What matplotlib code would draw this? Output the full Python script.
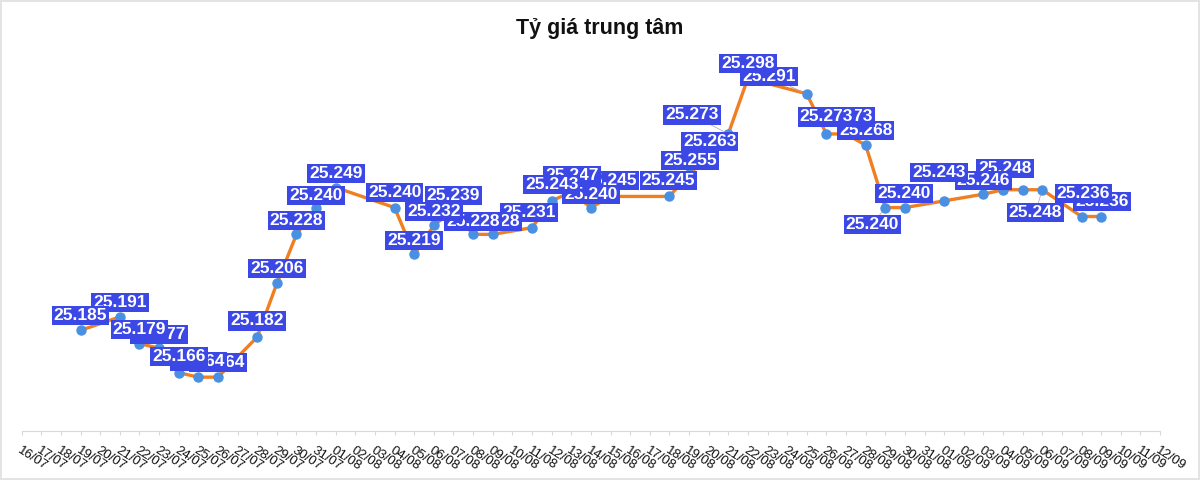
import matplotlib
matplotlib.use('Agg')
import matplotlib.pyplot as plt
import pandas as pd

plt.rcParams['font.family'] = ['Liberation Sans', 'DejaVu Sans']

# Axis categories: every day from 16/07 to 12/09
axis_days = list(pd.date_range('2025-07-16', '2025-09-12').strftime('%d/%m'))

# Central rate (thousand VND / USD)
dates = ['19/07', '21/07', '22/07', '23/07', '24/07', '25/07', '26/07', '28/07', '29/07',
         '30/07', '31/07', '01/08', '04/08', '05/08', '06/08', '07/08', '08/08', '09/08',
         '11/08', '12/08', '13/08', '14/08', '15/08', '18/08', '19/08', '20/08', '21/08',
         '22/08', '25/08', '26/08', '27/08', '28/08', '29/08', '30/08', '01/09', '03/09',
         '04/09', '05/09', '06/09', '08/09', '09/09']
rates = [25.185, 25.191, 25.179, 25.177, 25.166, 25.164, 25.164, 25.182, 25.206,
         25.228, 25.240, 25.249, 25.240, 25.219, 25.232, 25.239, 25.228, 25.228,
         25.231, 25.243, 25.247, 25.240, 25.245, 25.245, 25.255, 25.263, 25.273,
         25.298, 25.291, 25.273, 25.273, 25.268, 25.240, 25.240, 25.243, 25.246,
         25.248, 25.248, 25.248, 25.236, 25.236]

# label placement (pixels from the point), None = label hidden
label_offsets = [(0, 15), (0, 14), (0, 14), (0, 14), (0, 16), (0, 16), (0, 15), (0, 16), (0, 15),
                 (0, 14), (0, 12), (0, 14), (0, 15), (0, 14), (0, 14), (0, 14), (0, 13), (0, 13),
                 (-3, 15), (0, 16), (1, 16), (0, 13), (0, 16), (-1, 16), (1, 14), (1, 15), (-36, 19),
                 (0, 15), (-38, 17), (0, 17), (0, 17), (0, 15), (-13, -17), (-1, 14), (-5, 28), (0, 14),
                 (2, 21), None, (-7, -23), (2, 23), (1, 15)]

x = [axis_days.index(d) for d in dates]

fig = plt.figure(figsize=(12, 4.8), dpi=100)
fig.patch.set_facecolor('white')
fig.patch.set_edgecolor('#e3e3e3')
fig.patch.set_linewidth(1.5)

ax = fig.add_axes([0.0181, 0.1027, 0.9486, 0.7902])
ax.plot(x, rates, color='#F07F22', linewidth=2.4, zorder=3)
ax.plot(x, rates, linestyle='none', marker='o', markersize=6.5,
        markerfacecolor='#4A90E2', markeredgecolor='#4A90E2', zorder=4)

for i, (xi, v, off) in enumerate(zip(x, rates, label_offsets)):
    if off is None:
        continue
    dx, dy = off
    leader = dy < 0 or abs(dx) > 10
    ax.annotate(f'{v:.3f}', xy=(xi, v), xytext=(dx, dy), textcoords='offset pixels',
                ha='center', va='center', fontsize=12.5, fontweight='bold', color='white',
                bbox=dict(boxstyle='square,pad=0.12', facecolor='#3B48E6', edgecolor='none'),
                arrowprops=dict(arrowstyle='-', color='#b0b0b0', lw=0.6, shrinkA=0, shrinkB=4)
                if leader else None,
                zorder=100 - i * 0.1, annotation_clip=False)

ax.set_xlim(0, len(axis_days) - 1)
ax.set_ylim(25.14, 25.31)
ax.set_xticks(range(len(axis_days)))
ax.set_xticklabels(axis_days, rotation=-33, ha='left', va='top',
                   rotation_mode='anchor', fontsize=9.5, color='#111111')
ax.tick_params(axis='x', length=3, color='#d9d9d9', pad=7)
ax.set_yticks([])
for side in ['top', 'right', 'left']:
    ax.spines[side].set_visible(False)
ax.spines['bottom'].set_color('#d9d9d9')
ax.set_facecolor('none')

fig.text(0.5, 0.94, 'Tỷ giá trung tâm', ha='center', va='center',
         fontsize=15.5, fontweight='bold', color='#111111')

fig.savefig('out.png', dpi=100)
